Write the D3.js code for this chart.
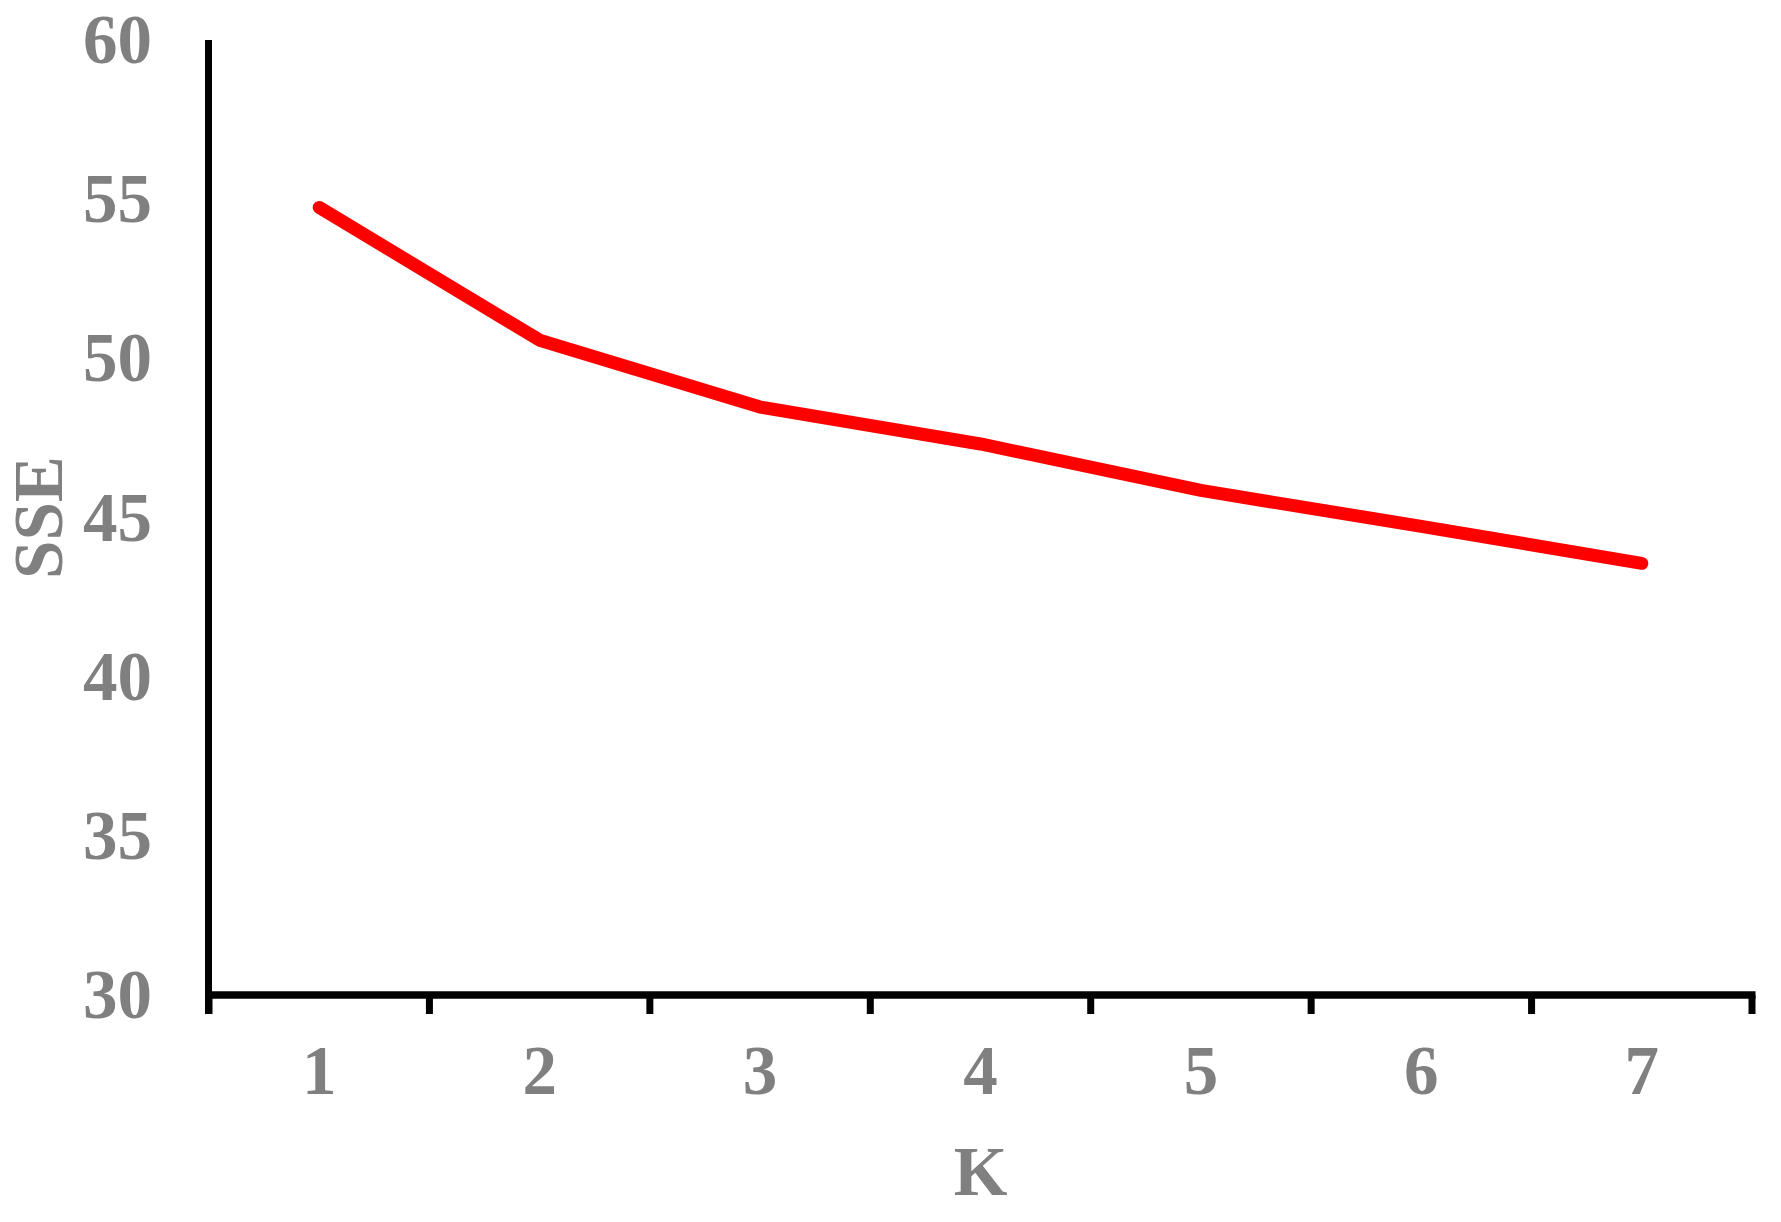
<!DOCTYPE html>
<html>
<head>
<meta charset="utf-8">
<script src="https://cdn.jsdelivr.net/npm/d3@7"></script>
<style>
  html, body { margin: 0; padding: 0; background: #fff; }
  svg { display: block; }
</style>
</head>
<body>
<div id="chart"></div>
<script>
// elbow curve data
const kValues = [1, 2, 3, 4, 5, 6, 7];
const sseValues = [54.74, 50.57, 48.47, 47.31, 45.85, 44.72, 43.56];
const yTicks = [30, 35, 40, 45, 50, 55, 60];

const width = 1781, height = 1222;
const plotLeft = 209, plotRight = 1752, plotTop = 40, plotBottom = 995;

const svg = d3.select("#chart").append("svg")
  .attr("width", width)
  .attr("height", height);

svg.append("rect").attr("width", width).attr("height", height).attr("fill", "#fff");

// all labels share this look
const label = sel => sel
  .attr("font-family", "Liberation Serif")
  .attr("font-weight", "bold")
  .attr("font-size", 69)
  .attr("fill", "#808080");

const x = d3.scaleBand().domain(kValues).range([plotLeft, plotRight]);
const y = d3.scaleLinear().domain([30, 60]).range([plotBottom, plotTop]);

// x axis with ticks at band edges
const xAxis = svg.append("g");
xAxis.append("line")
  .attr("x1", plotLeft - 3.5).attr("x2", plotRight + 3.5)
  .attr("y1", plotBottom).attr("y2", plotBottom)
  .attr("stroke", "#000").attr("stroke-width", 7.5);

const edges = kValues.map(k => x(k)).concat([plotRight]);
xAxis.selectAll(".tick")
  .data(edges)
  .enter().append("line")
  .attr("x1", d => d).attr("x2", d => d)
  .attr("y1", plotBottom).attr("y2", 1014)
  .attr("stroke", "#000").attr("stroke-width", 7);

xAxis.selectAll(".xlabel")
  .data(kValues)
  .enter().append("text")
  .call(label)
  .attr("x", d => x(d) + x.bandwidth() / 2)
  .attr("y", 1094)
  .attr("text-anchor", "middle")
  .text(d => d);

// y axis (no tick marks)
svg.append("line")
  .attr("x1", 208.5).attr("x2", 208.5)
  .attr("y1", plotTop).attr("y2", 1014)
  .attr("stroke", "#000").attr("stroke-width", 7);

svg.selectAll(".ylabel")
  .data(yTicks)
  .enter().append("text")
  .call(label)
  .attr("x", 152)
  .attr("y", d => y(d) + 23)
  .attr("text-anchor", "end")
  .text(d => d);

// axis titles
svg.append("text")
  .call(label)
  .attr("x", (plotLeft + plotRight) / 2)
  .attr("y", 1195)
  .attr("text-anchor", "middle")
  .text("K");

svg.append("text")
  .call(label)
  .attr("transform", "translate(62," + ((plotTop + plotBottom) / 2) + ") rotate(-90)")
  .attr("text-anchor", "middle")
  .text("SSE");

// the line
const line = d3.line()
  .x((d, i) => x(kValues[i]) + x.bandwidth() / 2)
  .y(d => y(d));

svg.append("path")
  .datum(sseValues)
  .attr("d", line)
  .attr("fill", "none")
  .attr("stroke", "#ff0000")
  .attr("stroke-width", 13)
  .attr("stroke-linecap", "round")
  .attr("stroke-linejoin", "round");
</script>
</body>
</html>
